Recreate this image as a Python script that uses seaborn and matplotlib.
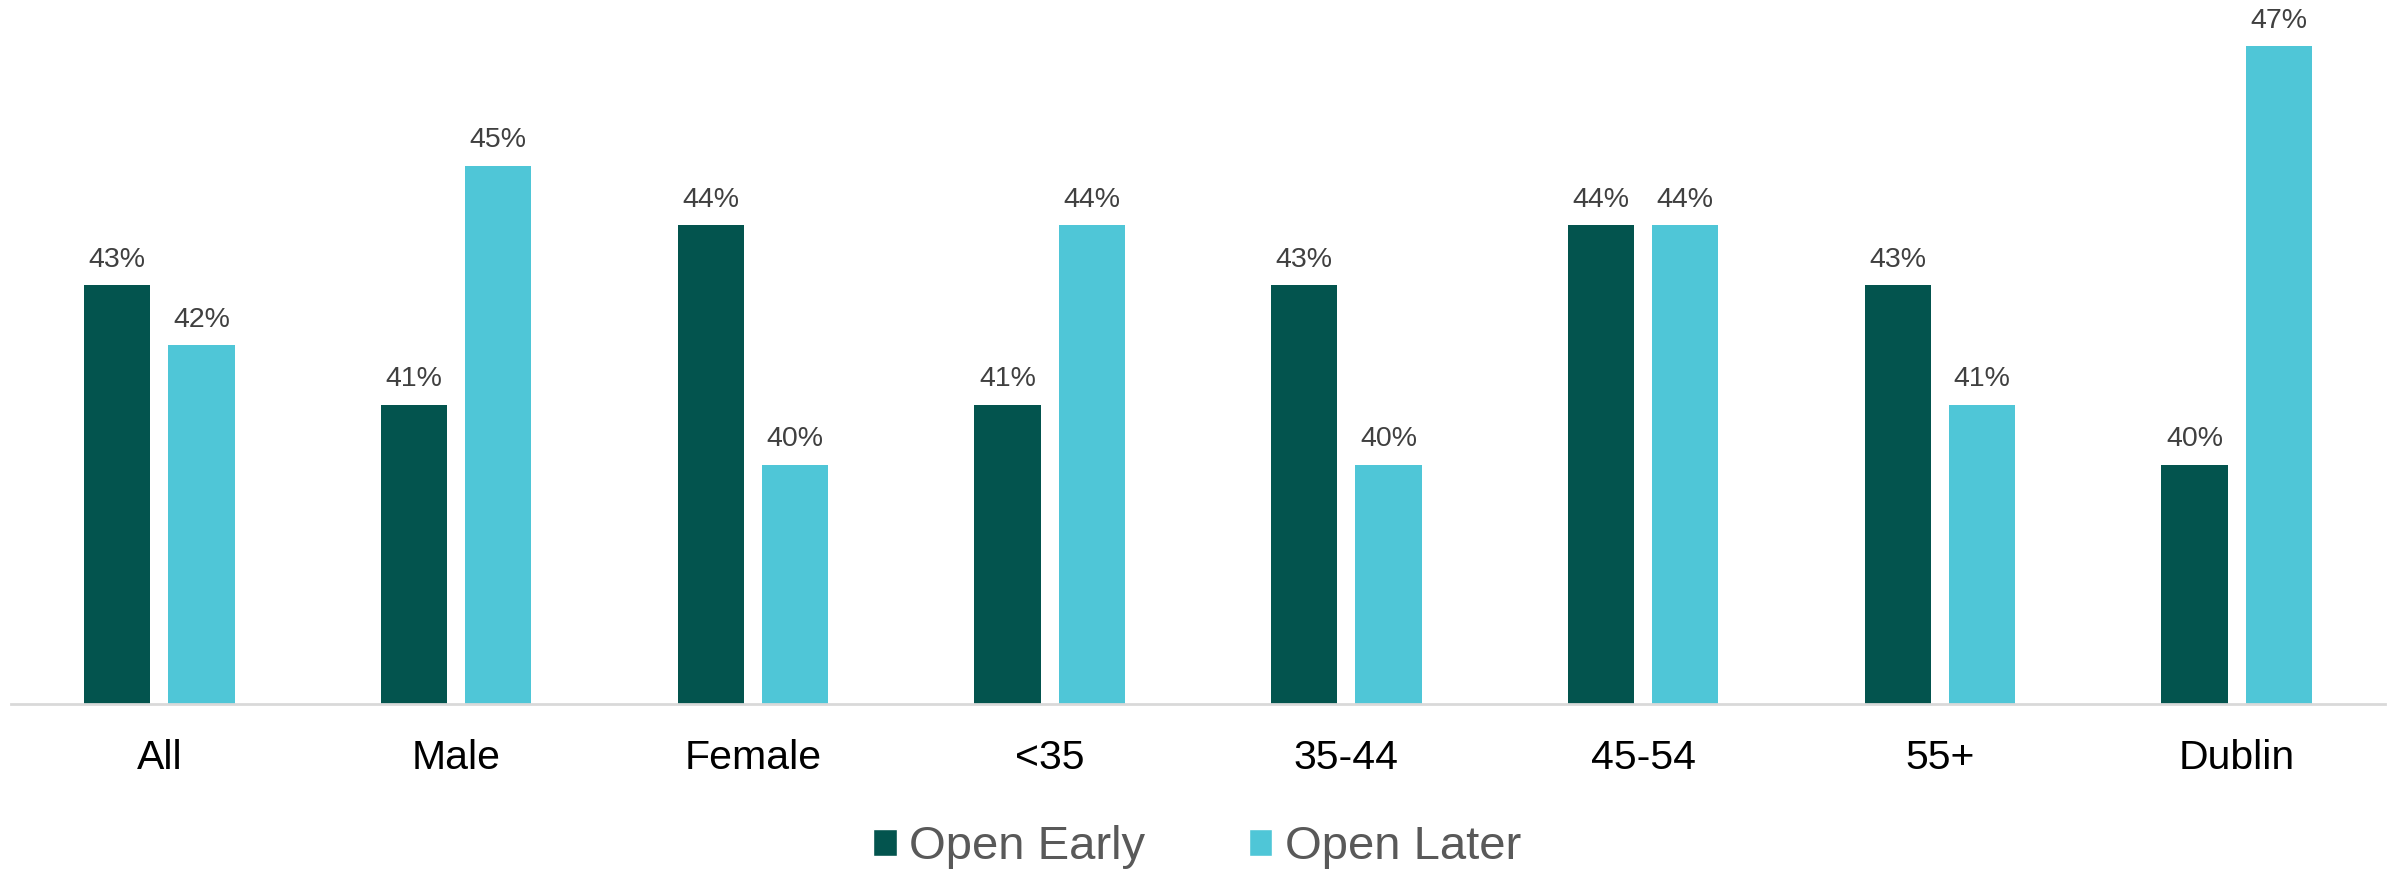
import matplotlib
matplotlib.use("Agg")
import matplotlib.pyplot as plt
import seaborn as sns
import pandas as pd
from matplotlib.patches import Patch

categories = ["All", "Male", "Female", "<35", "35-44", "45-54", "55+", "Dublin"]
open_early = [43, 41, 44, 41, 43, 44, 43, 40]
open_later = [42, 45, 40, 44, 40, 44, 41, 47]
series_names = ["Open Early", "Open Later"]
colors = ["#03544E", "#4FC6D7"]

df = pd.DataFrame({
    "Category": categories * 2,
    "Value": open_early + open_later,
    "Series": [series_names[0]] * len(categories) + [series_names[1]] * len(categories),
})

sns.set_style("white")
plt.rcParams["font.family"] = ["Liberation Sans", "DejaVu Sans"]

W, H = 2394, 875
fig = plt.figure(figsize=(W / 100, H / 100), dpi=100)
ax = fig.add_axes([11 / W, 1 - 704 / H, (2385 - 11) / W, 704 / H])

sns.barplot(data=df, x="Category", y="Value", hue="Series", order=categories,
            hue_order=series_names, palette=colors, width=0.568, gap=0.215,
            ax=ax, legend=False, saturation=1, linewidth=0)

ax.set_ylim(36, 47.77)
ax.set_xlim(-0.5, 7.5)
for c in ax.containers:
    ax.bar_label(c, labels=[f"{v:.0f}%" for v in c.datavalues], padding=9,
                 fontsize=20.5, color="#404040")

ax.set_xlabel("")
ax.set_ylabel("")
ax.set_yticks([])
ax.tick_params(axis="x", length=0, pad=25, labelsize=29.5, labelcolor="black")
for s in ["top", "right", "left"]:
    ax.spines[s].set_visible(False)
ax.spines["bottom"].set_color("#D9D9D9")
ax.spines["bottom"].set_linewidth(2)

handles = [Patch(facecolor=colors[i], label=series_names[i]) for i in range(2)]
fig.legend(handles=handles, loc="center", bbox_to_anchor=(0.5, 1 - 847 / H), ncol=2,
           frameon=False, fontsize=34, labelcolor="#595959", handlelength=0.5,
           handleheight=0.5, handletextpad=0.26, columnspacing=2.2)

fig.savefig("out.png", dpi=100)
